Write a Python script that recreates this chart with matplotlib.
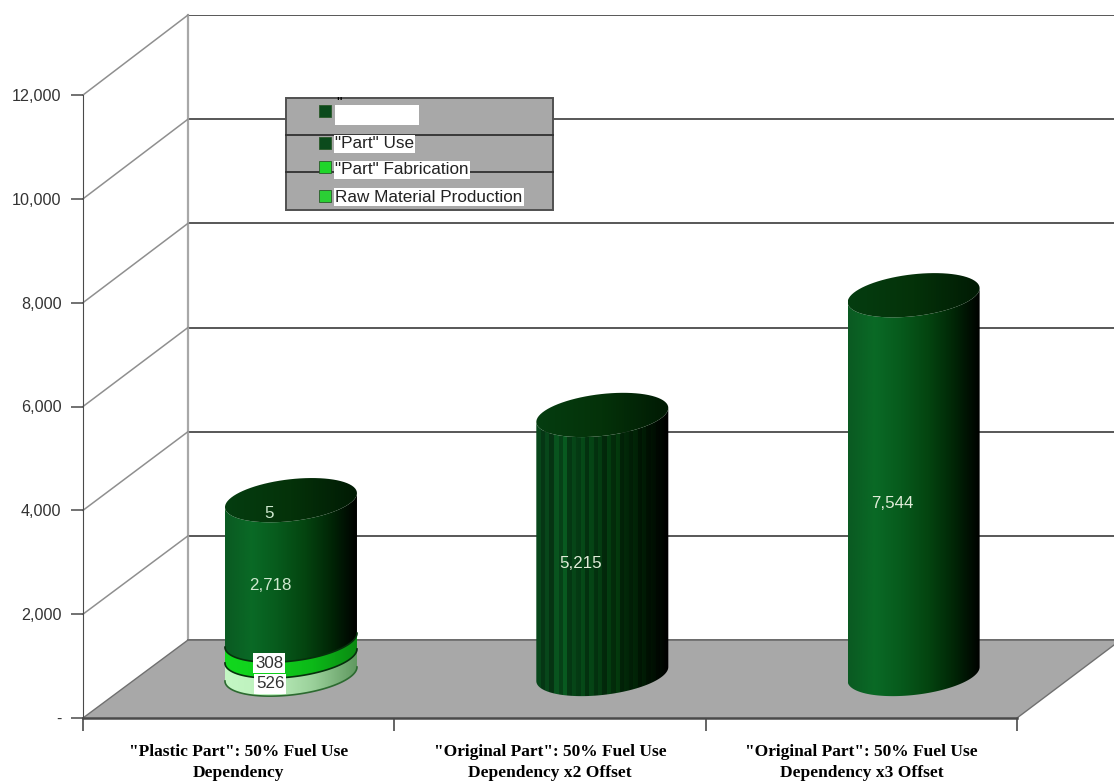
import matplotlib
matplotlib.use("Agg")
import numpy as np
import matplotlib.pyplot as plt
from matplotlib.colors import LinearSegmentedColormap
from matplotlib.patches import Polygon, Rectangle
from matplotlib.ticker import FuncFormatter

W, H = 1114, 783

categories = ['"Plastic Part": 50% Fuel Use\nDependency',
              '"Original Part": 50% Fuel Use\nDependency x2 Offset',
              '"Original Part": 50% Fuel Use\nDependency x3 Offset']
yticks = [0, 2000, 4000, 6000, 8000, 10000, 12000]

# stacked segments of each cylinder, bottom to top
raw_material = [526, 0, 0]
fabrication = [308, 0, 0]
part_use = [2718, 5215, 7544]
extra = [5, 0, 0]

legend_labels = ['"', '"Part" Use', '"Part" Fabrication', 'Raw Material Production']
legend_colors = ['#0b4a1c', '#0b4a1c', '#1fd62a', '#2bcf35']

GRAY = '#a8a8a8'
LINE = '#4a4a4a'

dark_cm = LinearSegmentedColormap.from_list('dark', ['#0a5a22', '#0a6a26', '#075a1c', '#044510', '#012606', '#000000'])
bright_cm = LinearSegmentedColormap.from_list('bright', ['#12d81e', '#10d01c', '#0cb818', '#0a8a12'])
light_cm = LinearSegmentedColormap.from_list('light', ['#c4f7c4', '#bdf0bd', '#9ad09a', '#5f985f'])
cap_cm = LinearSegmentedColormap.from_list('cap', ['#053d10', '#043209', '#011a04'])


def px_axes(fig, left, right, bottom, top):
    # axes placed by pixel edges, y measured from the top of the figure
    return fig.add_axes([left / W, 1 - bottom / H, (right - left) / W, (bottom - top) / H])


fig = plt.figure(figsize=(W / 100, H / 100), dpi=100, facecolor='white')

# back wall with its gridlines
wall = px_axes(fig, 188, 1114, 640, 15)
wall.set_ylim(0, 12000)
wall.set_xlim(0, 1)
wall.set_yticks(yticks)
wall.grid(axis='y', color=LINE, lw=1.3)
wall.tick_params(left=False, bottom=False, labelleft=False, labelbottom=False)
for name in ['top', 'right', 'bottom']:
    wall.spines[name].set_visible(False)
wall.spines['left'].set_color('#a8a8a8')
wall.spines['left'].set_linewidth(1.6)

# full figure layer in pixels for the floor and side wall
scene = fig.add_axes([0, 0, 1, 1])
scene.set_xlim(0, W)
scene.set_ylim(H, 0)
scene.axis('off')
scene.patch.set_alpha(0)
scene.add_patch(Polygon([(83, 718), (1017, 718), (1114, 645), (1114, 640), (188, 640)], fc=GRAY, ec='none'))
scene.plot([188, 1114], [640, 640], color='#707070', lw=1.3)
scene.plot([1017, 1114], [718, 645], color='#707070', lw=1)
for t in yticks[1:]:
    scene.plot([83, 188], [718 - t * 623 / 12000, 640 - t * 625 / 12000], color='#8f8f8f', lw=1.1)
scene.plot([83, 188], [718, 640], color='#707070', lw=1)

# front axis with the value and category scales
front = px_axes(fig, 83, 1017, 718, 95)
front.patch.set_alpha(0)
front.set_xlim(0, 3)
front.set_ylim(0, 12000)
front.set_yticks(yticks)
front.yaxis.set_major_formatter(FuncFormatter(lambda v, p: f'{int(v):,}' if v else '-'))
front.set_xticks([0, 1, 2, 3])
front.set_xticklabels([])
front.set_xticks([0.5, 1.5, 2.5], minor=True)
front.set_xticklabels(categories, minor=True, family='Liberation Serif', fontweight='bold', fontsize=12.5, linespacing=1.42)
front.tick_params(axis='x', which='major', length=9, width=1.2, color=LINE)
front.tick_params(axis='x', which='minor', length=0, pad=19)
front.tick_params(axis='y', length=9, width=1.1, color=LINE, labelsize=11.6, labelcolor='#333333', pad=6.5)
for lab in front.get_yticklabels():
    lab.set_family('Liberation Sans')
for name in ['top', 'right']:
    front.spines[name].set_visible(False)
front.spines['left'].set_color(LINE)
front.spines['bottom'].set_color(LINE)
front.spines['bottom'].set_linewidth(1.8)

# cylinders have their own value plane, set back from the front axis
bars = px_axes(fig, 83, 1017, 683 + 51.4, 683 - 12 * 51.4)
bars.patch.set_alpha(0)
bars.axis('off')
bars.set_xlim(0, 3)
bars.set_ylim(-1000, 12000)

centers = [0.668, 1.668, 2.668]
half_w = 66 / 311.33
ry = 21 / 51.4 * 1000
tilt = 7 / 51.4 * 1000
floor_value = 175
stripes = np.array([0.78, 0.58, 0.74, 0.52, 0.82, 0.62, 0.86, 0.55, 0.7, 0.6, 0.78, 0.54])


def gradient(cm, x0, y0, y1, clip, bands=None):
    t = np.linspace(0, 1, 200)
    rgb = cm(t)[:, :3]
    if bands is not None:
        # narrow vertical banding across the body
        idx = (t * 30).astype(int) % len(bands)
        rgb = np.clip(rgb * bands[idx][:, None], 0, 1)
    im = bars.imshow(rgb[None, :, :], extent=[x0 - half_w, x0 + half_w, y0, y1], aspect='auto',
                     interpolation='nearest' if bands is not None else 'bilinear', zorder=2)
    im.set_clip_path(clip)


def arc(x0, v, a, b):
    t = np.radians(np.linspace(a, b, 80))
    return np.column_stack([x0 + half_w * np.cos(t), v + ry * np.sin(t) + tilt * np.cos(t)])


def draw_segment(x0, v0, v1, cm, bands=None, edge_color=None):
    outline = np.vstack([arc(x0, v0, 180, 360), arc(x0, v1, 360, 180)])
    poly = Polygon(outline, closed=True, fc='none', ec='none', transform=bars.transData)
    bars.add_patch(poly)
    gradient(cm, x0, v0 - ry - tilt, v1 + ry + tilt, poly, bands)
    if edge_color:
        edge = arc(x0, v0, 180, 360)
        bars.plot(edge[:, 0], edge[:, 1], color=edge_color, lw=1.2, zorder=3, clip_on=False)


def draw_cap(x0, v):
    outline = arc(x0, v, 0, 360)
    poly = Polygon(outline, closed=True, fc='none', ec='none', transform=bars.transData)
    bars.add_patch(poly)
    gradient(cap_cm, x0, v - ry - tilt, v + ry + tilt, poly)


for i, x0 in enumerate(centers):
    bottom = floor_value
    if raw_material[i]:
        top = raw_material[i]
        draw_segment(x0, bottom, top, light_cm, edge_color='#2c6a30')
        bottom = top
        top = bottom + fabrication[i]
        draw_segment(x0, bottom, top, bright_cm, edge_color='#06300c')
        bottom = top
        top = bottom + part_use[i] + extra[i]
        draw_segment(x0, bottom, top, dark_cm, edge_color='#06300c')
    else:
        top = part_use[i]
        draw_segment(x0, bottom, top, dark_cm, stripes if i == 1 else None)
    draw_cap(x0, top)
bars.set_xlim(0, 3)
bars.set_ylim(-1000, 12000)

# top layer in pixels for value labels and legend
over = fig.add_axes([0, 0, 1, 1])
over.set_xlim(0, W)
over.set_ylim(H, 0)
over.axis('off')
over.patch.set_alpha(0)

lab_kw = dict(family='Liberation Sans', fontsize=12.2, ha='center', va='center', zorder=6)
box = dict(fc='white', ec='none', pad=1.5)
over.text(269, 514, f'{extra[0]:,}', color='#cfe8cf', **lab_kw)
over.text(270, 585, f'{part_use[0]:,}', color='#cfe8cf', **lab_kw)
over.text(269, 663, f'{fabrication[0]:,}', color='#333333', bbox=box, **lab_kw)
over.text(270, 684, f'{raw_material[0]:,}', color='#333333', bbox=box, **lab_kw)
over.text(581, 564, f'{part_use[1]:,}', color='#e0ecd8', **lab_kw)
over.text(892, 503, f'{part_use[2]:,}', color='#e0ecd8', **lab_kw)

# legend panel
over.add_patch(Rectangle((286, 98), 267, 112, fc=GRAY, ec='#505050', lw=1.4, zorder=4))
over.plot([286, 553], [135, 135], color='#303030', lw=1.3, zorder=5)
over.plot([286, 553], [172, 172], color='#303030', lw=1.3, zorder=5)
legend_y = [111, 143, 167, 196]
for col, y in zip(legend_colors, legend_y):
    over.add_patch(Rectangle((319, y - 6), 12, 12, fc=col, ec='#2a5a2a', lw=0.6, zorder=6))
over.add_patch(Rectangle((335, 105), 84, 20, fc='white', ec='none', zorder=6))
over.text(336, 103, legend_labels[0], fontsize=11, family='Liberation Sans', va='center', zorder=7)
for lab, y in zip(legend_labels[1:], [144, 170, 197]):
    over.text(335, y, lab, fontsize=12.3, family='Liberation Sans', va='center', color='#222222', zorder=7,
              bbox=dict(fc='white', ec='none', pad=1))

fig.savefig('out.png', dpi=100, facecolor='white')
